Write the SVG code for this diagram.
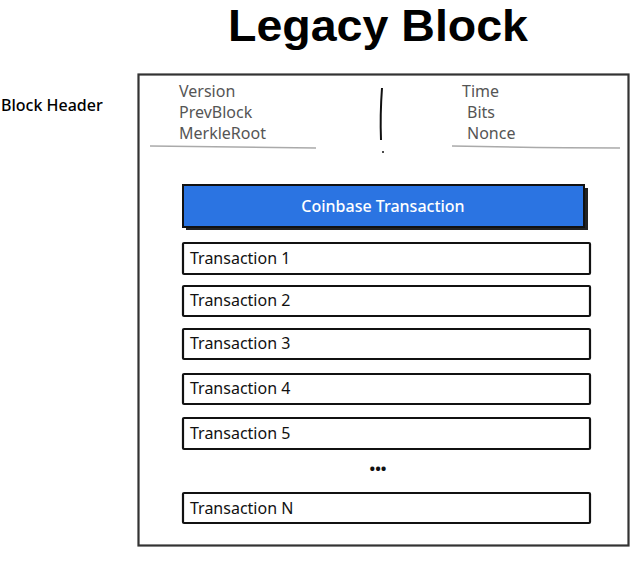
<svg xmlns="http://www.w3.org/2000/svg" width="640" height="562" viewBox="0 0 640 562">
<style>
.box{fill:#fff;stroke:#111;stroke-width:2.2}
.tx{font-family:"Noto Sans","Liberation Sans",sans-serif;font-size:16px;fill:#111}
.hd{font-family:"Noto Sans","Liberation Sans",sans-serif;font-size:16px;fill:#555}
.rule{stroke:#aaa;stroke-width:1.5;fill:none}
</style>
<rect width="640" height="562" fill="#fff"/>
<text id="title" x="378" y="41" text-anchor="middle" textLength="300" lengthAdjust="spacingAndGlyphs" font-family="'Liberation Sans',Arial,sans-serif" font-weight="bold" font-size="44" fill="#000">Legacy Block</text>
<text id="block-header-label" x="1" y="111" font-family="'Noto Sans','Liberation Sans',sans-serif" font-size="16" font-weight="500" fill="#000">Block Header</text>
<g id="block">
<rect x="138.5" y="74.5" width="490" height="471" fill="#fff" stroke="#333" stroke-width="2.2"/>
</g>
<g id="header">
<text class="hd" x="179" y="97">Version</text>
<text class="hd" x="179" y="118">PrevBlock</text>
<text class="hd" x="179" y="139">MerkleRoot</text>
<text class="hd" x="462" y="97">Time</text>
<text class="hd" x="467" y="118">Bits</text>
<text class="hd" x="467" y="139">Nonce</text>
<path class="rule" d="M150 146 Q230 147 316 148"/>
<path class="rule" d="M452 146 Q540 148 620 148"/>
<path d="M382 88 Q380 115 381 140" stroke="#111" stroke-width="2" fill="none"/>
<circle cx="383" cy="152" r="1" fill="#111"/>
</g>
<g id="coinbase">
<rect x="186" y="188" width="402" height="42" fill="#222"/>
<rect x="183" y="185" width="401" height="42" fill="#2b74e2" stroke="#111" stroke-width="2"/>
<text x="383" y="212" text-anchor="middle" font-family="'Noto Sans','Liberation Sans',sans-serif" font-size="16" font-weight="500" fill="#fff">Coinbase Transaction</text>
</g>
<g id="tx1"><rect class="box" x="183" y="243" width="407" height="31" rx="1"/><text class="tx" x="190" y="264">Transaction 1</text></g>
<g id="tx2"><rect class="box" x="183" y="286" width="407" height="30" rx="1"/><text class="tx" x="190" y="306">Transaction 2</text></g>
<g id="tx3"><rect class="box" x="183" y="329" width="407" height="30" rx="1"/><text class="tx" x="190" y="349">Transaction 3</text></g>
<g id="tx4"><rect class="box" x="183" y="374" width="407" height="30" rx="1"/><text class="tx" x="190" y="394">Transaction 4</text></g>
<g id="tx5"><rect class="box" x="183" y="418" width="407" height="31" rx="1"/><text class="tx" x="190" y="439">Transaction 5</text></g>
<text id="ellipsis" x="378" y="474" text-anchor="middle" font-family="'Noto Sans',sans-serif" font-size="15" font-weight="bold" fill="#111">•••</text>
<g id="txN"><rect class="box" x="183" y="493" width="407" height="30" rx="1"/><text class="tx" x="190" y="514">Transaction N</text></g>
<g id="connectors"/>
</svg>
